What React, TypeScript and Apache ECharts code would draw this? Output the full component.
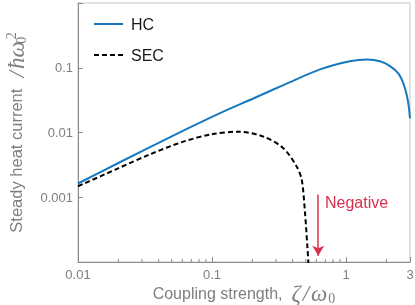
import React, { useEffect, useRef } from "react";
import * as echarts from "echarts";

// Data
const hcX = [0.01, 0.02, 0.05, 0.1148, 0.203, 0.361, 0.64, 1.07, 1.43, 1.79, 2.13, 2.46, 2.68, 2.84, 2.94, 3.0];
const hcY = [0.00163, 0.00338, 0.00872, 0.0199, 0.0335, 0.0569, 0.0942, 0.126, 0.134, 0.126, 0.106, 0.081, 0.0569, 0.0376, 0.0249, 0.0165];

const secX = [0.01, 0.02, 0.0344, 0.0611, 0.1, 0.157, 0.242, 0.34, 0.428, 0.467, 0.494, 0.514, 0.523, 0.527];
const secY = [0.00148, 0.0028, 0.0046, 0.00723, 0.0094, 0.0103, 0.00863, 0.00573, 0.00299, 0.00187, 0.000576, 0.000177, 0.0001, 0.00007];

const xTickLabels = [0.01, 0.1, 1, 3];
const yTickLabels = [0.001, 0.01, 0.1];
const xMinorTicks = [0.02, 0.03, 0.04, 0.05, 0.06, 0.07, 0.08, 0.09, 0.2, 0.3, 0.4, 0.5, 0.6, 0.7, 0.8, 0.9, 2];

const xRange = [0.01, 3];
const yRange = [0.0001, 1];

const arrowX = 0.62;
const arrowY = [0.0011, 0.000125];

const AXIS = "#8a8a8a";
const TEXT = "#7f7f7f";
const BLUE = "#1878bd";
const RED = "#d9304d";
const SANS = "'Liberation Sans', Arial, sans-serif";
const SERIF = "'Liberation Serif', 'DejaVu Serif', serif";

const near = (v: number, list: number[]) => list.find((t) => Math.abs(v - t) / t < 1e-3);

export default function App() {
  const ref = useRef<HTMLDivElement>(null);
  useEffect(() => {
    document.body.style.margin = "0";
    const chart = echarts.init(ref.current!, undefined, { renderer: "svg" });
    const mathRich = {
      t: { fontFamily: SANS, fontSize: 16, color: TEXT },
      ty: { fontFamily: SANS, fontSize: 16.5, color: TEXT },
      m: { fontFamily: SERIF, fontStyle: "italic", fontSize: 23, color: TEXT },
      ms: { fontFamily: SERIF, fontStyle: "italic", fontSize: 23, color: TEXT, padding: [0, 2, 0, 2] },
      sub: { fontFamily: SERIF, fontSize: 14, color: TEXT, verticalAlign: "bottom", padding: [6, 0, 0, 1] },
      subz: { fontFamily: SERIF, fontSize: 14, color: TEXT, verticalAlign: "bottom", padding: [10, 0, 0, 1], width: 0 },
      sup: { fontFamily: SERIF, fontSize: 14, color: TEXT, verticalAlign: "top", padding: [0, 0, 10, 1] },
    };
    chart.setOption({
      animation: false,
      grid: {
        left: 78,
        right: 5,
        top: 3,
        bottom: 43,
        containLabel: false,
        outerBoundsMode: "none",
        show: true,
        borderColor: "#c4c4c4",
        borderWidth: 1,
      },
      legend: {
        data: ["HC", "SEC"],
        orient: "vertical",
        left: 88,
        top: 11,
        itemWidth: 29,
        itemHeight: 14,
        itemGap: 15,
        itemStyle: { opacity: 0 },
        textStyle: { fontFamily: SANS, fontSize: 16, color: "#1a1a1a", padding: [0, 0, 0, 3] },
      },
      xAxis: {
        type: "log",
        logBase: 10,
        min: xRange[0],
        max: xRange[1],
        name: "{t|Coupling strength,  }{m|ζ}{ms|/}{m|ω}{sub|0}",
        nameLocation: "middle",
        nameGap: 20,
        nameMoveOverlap: false,
        nameTextStyle: { rich: mathRich },
        axisLine: { lineStyle: { color: AXIS, width: 1 } },
        axisTick: { inside: true, length: 5, lineStyle: { color: AXIS } },
        splitLine: { show: false },
        axisLabel: {
          color: TEXT,
          fontFamily: SANS,
          fontSize: 13,
          margin: 6,
          showMaxLabel: true,
          showMinLabel: true,
          formatter: (v: number) => {
            const t = near(v, xTickLabels);
            return t !== undefined ? String(t) : "";
          },
        },
      },
      yAxis: {
        type: "log",
        logBase: 10,
        min: yRange[0],
        max: yRange[1],
        name: "{ty|Steady heat current  }{ms|/}{m|ħω}{subz|0}{sup|2}",
        nameLocation: "middle",
        nameRotate: 90,
        nameGap: 50,
        nameTextStyle: { rich: mathRich },
        axisLine: { lineStyle: { color: AXIS, width: 1 } },
        axisTick: { inside: true, length: 5, lineStyle: { color: AXIS } },
        splitLine: { show: false },
        axisLabel: {
          color: TEXT,
          fontFamily: SANS,
          fontSize: 13,
          margin: 5,
          formatter: (v: number) => {
            const t = near(v, yTickLabels);
            return t !== undefined ? String(t) : "";
          },
        },
      },
      series: [
        {
          name: "HC",
          type: "line",
          data: hcX.map((x, i) => [x, hcY[i]]),
          symbol: "none",
          showSymbol: false,
          smooth: 0.3,
          lineStyle: { color: BLUE, width: 2 },
          itemStyle: { color: BLUE },
          clip: true,
        },
        {
          name: "SEC",
          type: "line",
          data: secX.map((x, i) => [x, secY[i]]),
          symbol: "none",
          showSymbol: false,
          smooth: 0.3,
          lineStyle: { color: "#000", width: 2, type: [5, 3] },
          itemStyle: { color: "#000" },
          clip: true,
          markLine: {
            silent: true,
            symbol: ["none", "arrow"],
            symbolSize: [9, 10],
            label: { show: false },
            lineStyle: { color: RED, width: 1.5, type: "solid" },
            data: [[{ coord: [arrowX, arrowY[0]] }, { coord: [arrowX, arrowY[1]] }]],
          },
        },
        {
          name: "minor",
          type: "custom",
          silent: true,
          data: xMinorTicks.map((x) => [x, yRange[0]]),
          renderItem: (params: any, api: any) => {
            const p = api.coord([api.value(0), api.value(1)]);
            return {
              type: "line",
              shape: { x1: p[0], y1: p[1], x2: p[0], y2: p[1] - 3 },
              style: { stroke: AXIS, lineWidth: 1 },
            };
          },
        },
      ],
      graphic: [
        {
          type: "text",
          left: 325,
          top: 194,
          style: { text: "Negative", fill: RED, font: `16px ${SANS}` },
        },
      ],
    });
    return () => chart.dispose();
  }, []);
  return <div ref={ref} style={{ position: "fixed", left: 0, top: 0, width: 415, height: 305 }} />;
}
